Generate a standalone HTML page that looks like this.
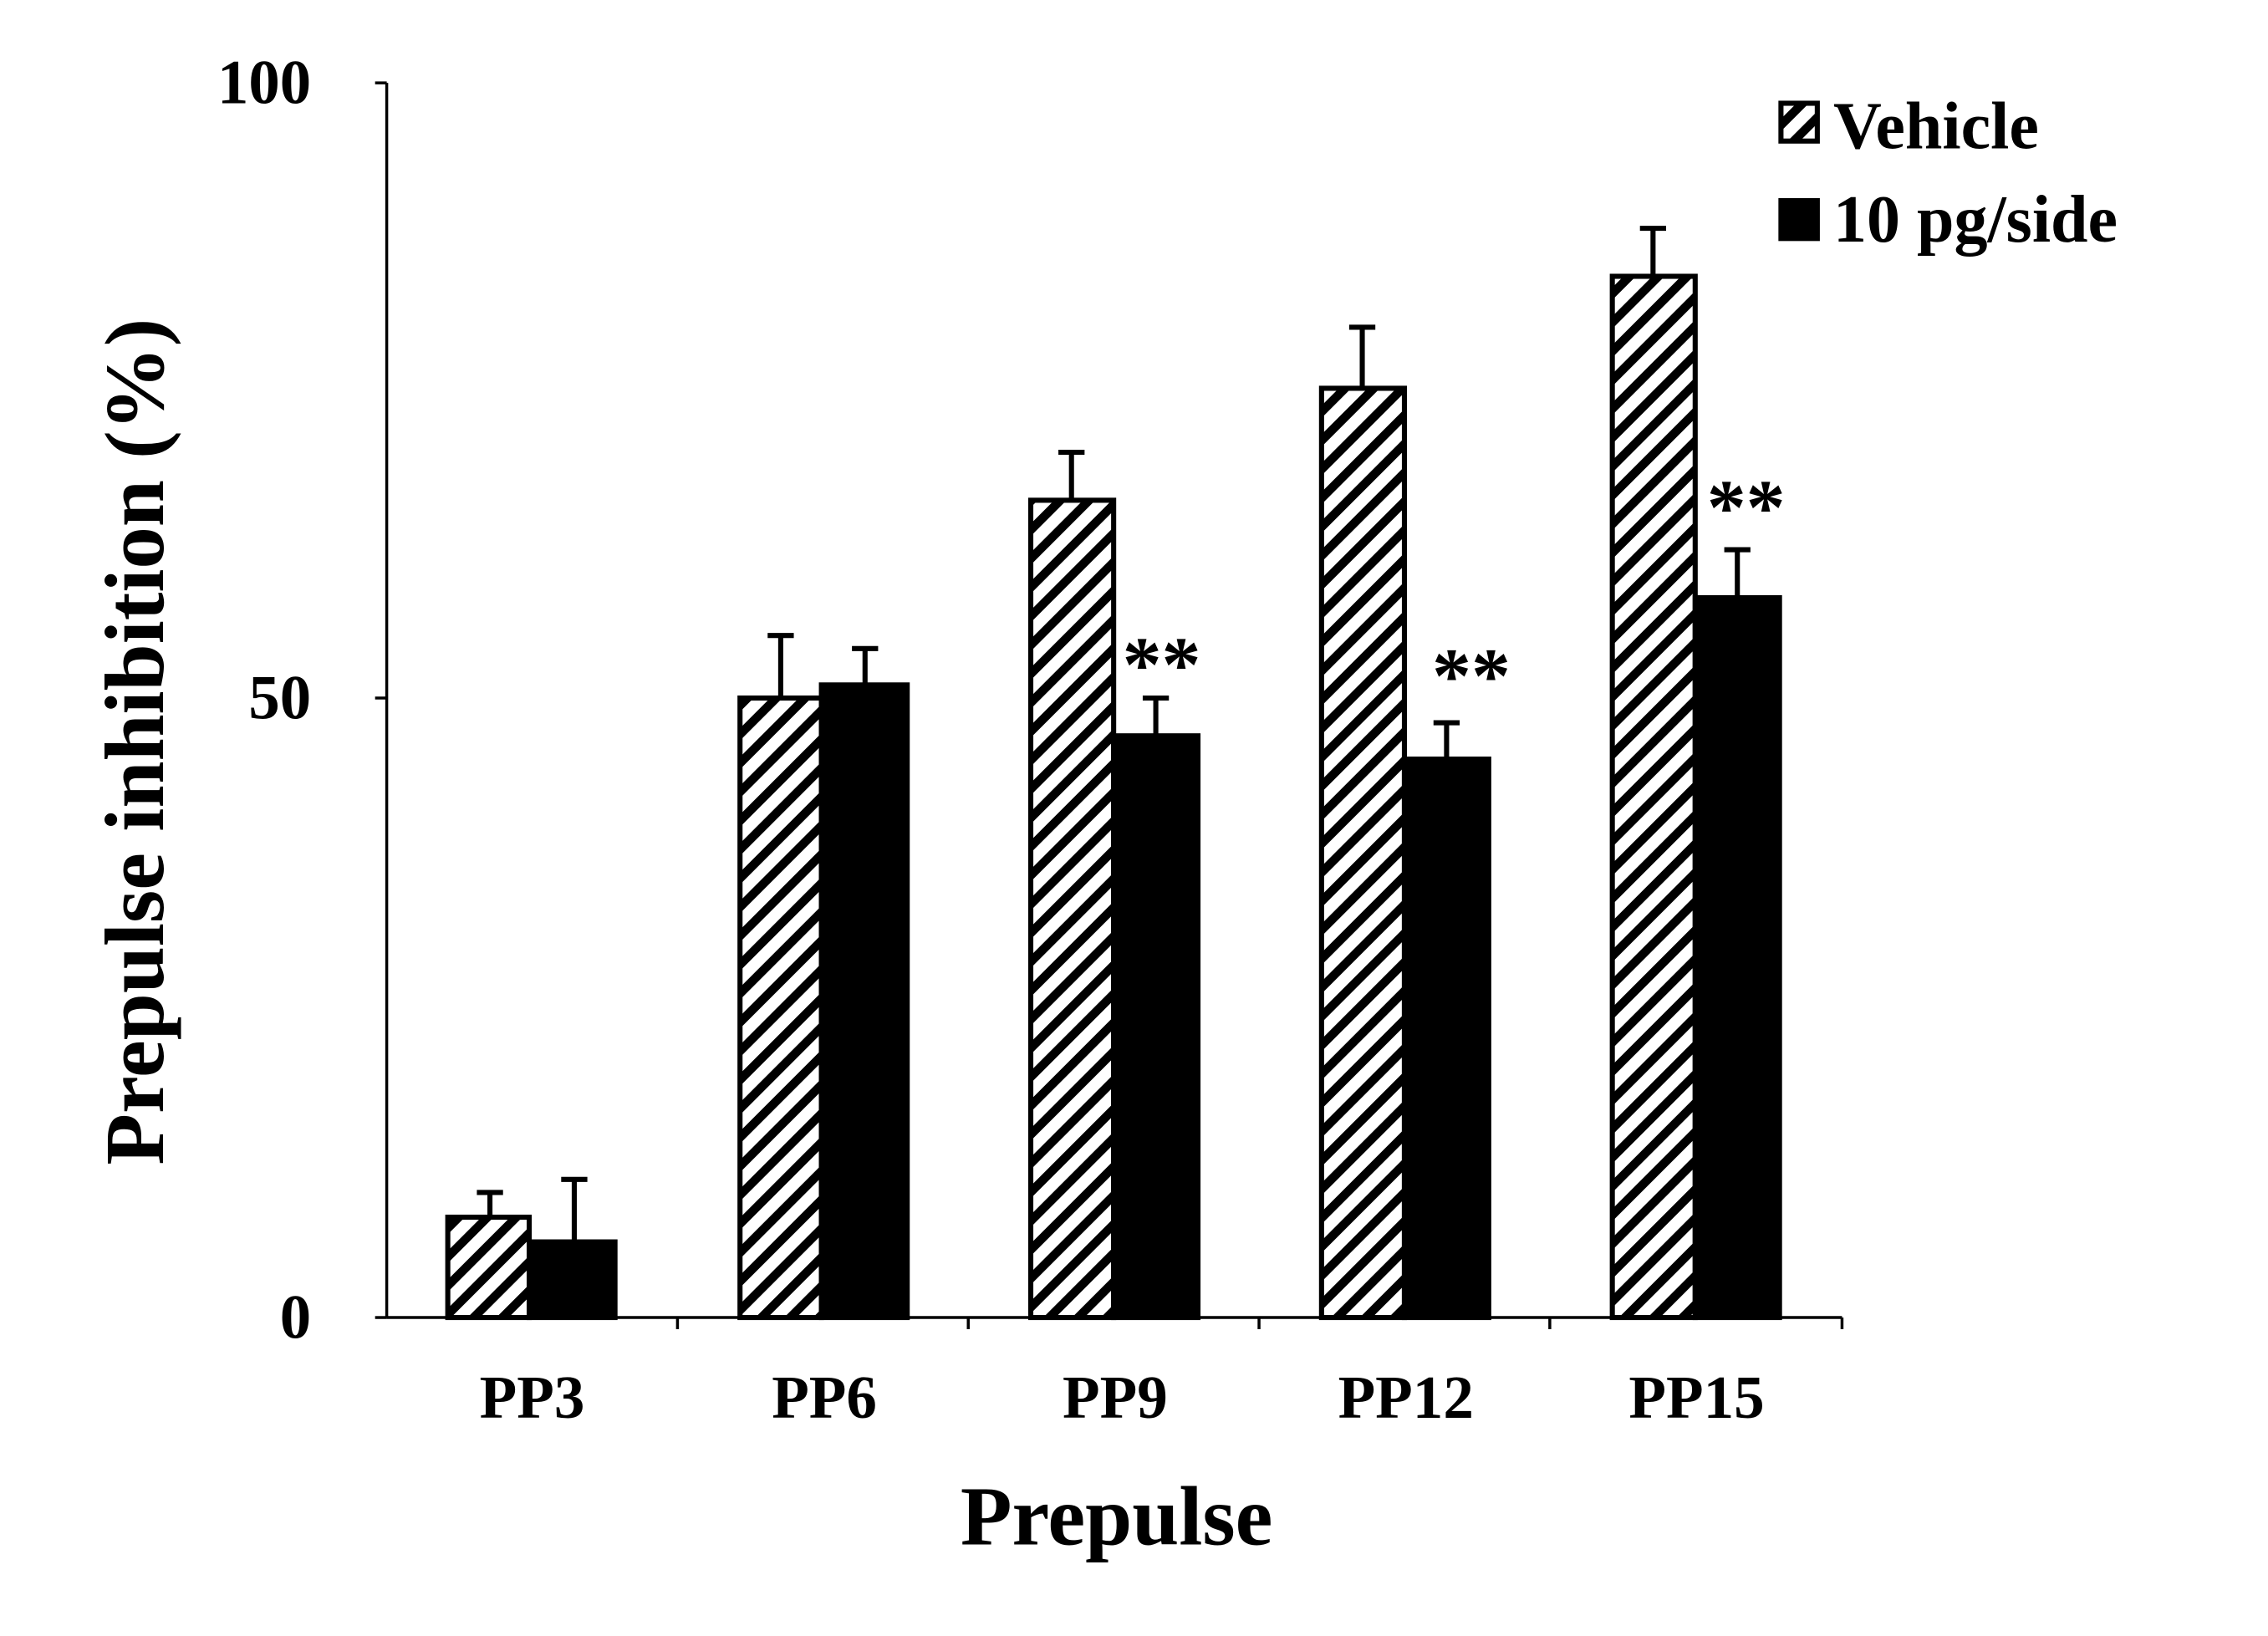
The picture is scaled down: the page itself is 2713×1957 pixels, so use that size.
<!DOCTYPE html>
<html><head><style>html,body{margin:0;padding:0;background:#fff}svg{display:block}</style></head>
<body>
<svg width="2713" height="1957" viewBox="0 0 1560 1125" preserveAspectRatio="none" xmlns="http://www.w3.org/2000/svg">
<defs>
<pattern id="h" patternUnits="userSpaceOnUse" width="14" height="14" patternTransform="rotate(45)">
<rect width="14" height="14" fill="#fff"/><rect x="0" y="0" width="6" height="14" fill="#000"/>
</pattern>
</defs>
<rect width="1560" height="1125" fill="#fff"/>
<g stroke="#000" stroke-width="2" fill="none">
<line x1="266" y1="57" x2="266" y2="906"/>
<line x1="266" y1="906" x2="1267" y2="906"/>
<line x1="258" y1="57" x2="266" y2="57"/>
<line x1="258" y1="480" x2="266" y2="480"/>
<line x1="258" y1="906" x2="266" y2="906"/>
<line x1="466" y1="906" x2="466" y2="914"/>
<line x1="666" y1="906" x2="666" y2="914"/>
<line x1="866" y1="906" x2="866" y2="914"/>
<line x1="1066" y1="906" x2="1066" y2="914"/>
<line x1="1267" y1="906" x2="1267" y2="914"/>
</g>
<g stroke="#000" stroke-width="3.5">
<line x1="337" y1="837" x2="337" y2="820"/><line x1="328" y1="820" x2="346" y2="820"/>
<line x1="395" y1="854" x2="395" y2="811"/><line x1="386" y1="811" x2="404" y2="811"/>
<line x1="537" y1="480" x2="537" y2="437"/><line x1="528" y1="437" x2="546" y2="437"/>
<line x1="595" y1="471" x2="595" y2="446"/><line x1="586" y1="446" x2="604" y2="446"/>
<line x1="737" y1="344" x2="737" y2="311"/><line x1="728" y1="311" x2="746" y2="311"/>
<line x1="795" y1="506" x2="795" y2="480"/><line x1="786" y1="480" x2="804" y2="480"/>
<line x1="937" y1="267" x2="937" y2="225"/><line x1="928" y1="225" x2="946" y2="225"/>
<line x1="995" y1="522" x2="995" y2="497"/><line x1="986" y1="497" x2="1004" y2="497"/>
<line x1="1137" y1="190" x2="1137" y2="157"/><line x1="1128" y1="157" x2="1146" y2="157"/>
<line x1="1195" y1="411" x2="1195" y2="378"/><line x1="1186" y1="378" x2="1204" y2="378"/>
</g>
<g stroke="#000" stroke-width="3.5">
<rect x="308" y="837" width="56" height="69" fill="url(#h)"/>
<rect x="364" y="854" width="59" height="52" fill="#000"/>
<rect x="509" y="480" width="56" height="426" fill="url(#h)"/>
<rect x="565" y="471" width="59" height="435" fill="#000"/>
<rect x="709" y="344" width="57" height="562" fill="url(#h)"/>
<rect x="766" y="506" width="58" height="400" fill="#000"/>
<rect x="909" y="267" width="57" height="639" fill="url(#h)"/>
<rect x="966" y="522" width="58" height="384" fill="#000"/>
<rect x="1109" y="190" width="57" height="716" fill="url(#h)"/>
<rect x="1166" y="411" width="58" height="495" fill="#000"/>
<rect x="1225" y="71" width="25" height="26" fill="url(#h)"/>
<rect x="1225" y="138" width="25" height="26" fill="#000"/>
</g>
<g font-family="Liberation Serif, serif" font-weight="bold" fill="#000">
<g font-size="43" text-anchor="end">
<text x="214" y="71">100</text>
<text x="214" y="494">50</text>
<text x="214" y="920">0</text>
</g>
<g font-size="42" text-anchor="middle">
<text x="366" y="975">PP3</text>
<text x="567" y="975">PP6</text>
<text x="767" y="975">PP9</text>
<text x="967" y="975">PP12</text>
<text x="1167" y="975">PP15</text>
</g>
<g font-size="54" text-anchor="middle">
<text x="799" y="475">**</text>
<text x="1012" y="483">**</text>
<text x="1201" y="367">**</text>
</g>
<text x="768" y="1062" font-size="58" text-anchor="middle">Prepulse</text>
<text transform="translate(112,510) rotate(-90)" font-size="58" text-anchor="middle">Prepulse inhibition (%)</text>
<text x="1261" y="102" font-size="46">Vehicle</text>
<text x="1261" y="166" font-size="46">10 pg/side</text>
</g>
</svg>
</body></html>
